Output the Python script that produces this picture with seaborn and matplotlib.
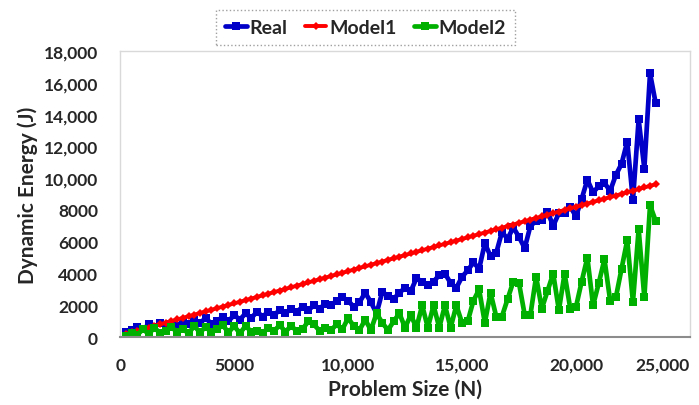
import numpy as np
import pandas as pd
import matplotlib
matplotlib.use("Agg")
import matplotlib.pyplot as plt
import seaborn as sns
from matplotlib.ticker import FuncFormatter

# problem sizes (N), one sample every 250
problem_size = list(range(250, 23501, 250))

real = [300, 450, 650, 500, 800, 650, 900, 650, 850, 700,
        1000, 800, 1100, 900, 1200, 850, 1000, 1300, 1000, 1400,
        1100, 1500, 1200, 1600, 1300, 1600, 1400, 1700, 1500, 1800,
        1600, 1900, 1700, 2000, 1800, 2100, 2000, 2300, 2500, 2300,
        1900, 2200, 2800, 2200, 1500, 2850, 2600, 2400, 2800, 3100,
        2900, 3700, 3500, 3300, 3500, 3900, 4000, 3400, 3100, 3800,
        4200, 4700, 4300, 5900, 5100, 5300, 6600, 6200, 6900, 6300,
        5600, 7000, 7300, 7400, 7900, 7000, 7800, 7800, 8200, 7600,
        8700, 9900, 9100, 9500, 9700, 9200, 10200, 10900, 12300, 8600,
        13700, 10600, 16600, 14700]

model1 = [201, 303, 404, 505, 606, 708, 809, 910, 1011, 1113,
          1214, 1315, 1416, 1518, 1619, 1720, 1821, 1923, 2024, 2125,
          2226, 2328, 2429, 2530, 2631, 2733, 2834, 2935, 3036, 3138,
          3239, 3340, 3441, 3543, 3644, 3745, 3846, 3948, 4049, 4150,
          4251, 4353, 4454, 4555, 4656, 4758, 4859, 4960, 5061, 5163,
          5264, 5365, 5466, 5568, 5669, 5770, 5871, 5973, 6074, 6175,
          6276, 6378, 6479, 6580, 6681, 6783, 6884, 6985, 7086, 7188,
          7289, 7390, 7491, 7593, 7694, 7795, 7896, 7998, 8099, 8200,
          8301, 8403, 8504, 8605, 8706, 8808, 8909, 9010, 9111, 9213,
          9314, 9415, 9516, 9618]

model2 = [100, 250, 150, 500, 200, 600, 250, 400, 650, 300,
          500, 250, 700, 300, 650, 300, 500, 750, 300, 700,
          250, 700, 350, 400, 250, 600, 400, 750, 350, 700,
          400, 500, 1000, 800, 400, 600, 450, 800, 500, 1200,
          700, 450, 1100, 450, 1500, 900, 450, 1000, 1500, 600,
          1400, 600, 2000, 600, 2000, 600, 2000, 600, 2000, 900,
          1000, 2300, 3000, 900, 2800, 1300, 1300, 2400, 3500, 3400,
          1400, 1400, 3800, 1800, 2900, 4000, 1700, 4000, 1800, 1900,
          3500, 5000, 2000, 3400, 4900, 2300, 2500, 4300, 6100, 2200,
          6800, 2500, 8300, 7300]

df = pd.DataFrame({"N": problem_size, "Real": real, "Model1": model1, "Model2": model2})

sns.set_style("white")
plt.rcParams["font.family"] = ["Lato", "DejaVu Sans"]
plt.rcParams["font.weight"] = "bold"

fig = plt.figure(figsize=(6.99, 4.06), dpi=100)
ax = fig.add_axes([0.172, 0.167, 0.815, 0.705])

sns.lineplot(data=df, x="N", y="Real", ax=ax, color="#0000C8", linewidth=3.4,
             marker="s", markersize=6, markeredgewidth=0, label="Real")
sns.lineplot(data=df, x="N", y="Model1", ax=ax, color="#FF0000", linewidth=2.8,
             marker="D", markersize=3.8, markeredgewidth=0, label="Model1")
sns.lineplot(data=df, x="N", y="Model2", ax=ax, color="#00B000", linewidth=3.4,
             marker="s", markersize=6, markeredgewidth=0, label="Model2")

ax.set_xlim(0, 25000)
ax.set_ylim(0, 18000)
ax.set_xticks([0, 5000, 10000, 15000, 20000, 25000])
ax.set_yticks(range(0, 18001, 2000))
fmt = FuncFormatter(lambda v, p: f"{v:,.0f}" if v >= 10000 else f"{v:.0f}")
ax.xaxis.set_major_formatter(fmt)
ax.yaxis.set_major_formatter(fmt)
ax.tick_params(length=0, labelsize=12.5)
ax.tick_params(axis="x", pad=14)
ax.tick_params(axis="y", pad=16)
fig.canvas.draw()
for lab in ax.get_xticklabels() + ax.get_yticklabels():
    lab.set_fontweight("bold")
# keep the last x label inside the figure
ax.get_xticklabels()[-1].set_horizontalalignment("right")

ax.set_xlabel("Problem Size (N)", fontsize=15, fontweight="bold", labelpad=4)
ax.set_ylabel("Dynamic Energy (J)", fontsize=15, fontweight="bold", labelpad=4)

for side in ["top", "right", "left"]:
    ax.spines[side].set_color("#D9D9D9")
    ax.spines[side].set_linewidth(1)
ax.spines["bottom"].set_color("#8C8C8C")
ax.spines["bottom"].set_linewidth(1.5)

leg = ax.legend(loc="center", bbox_to_anchor=(0.523, 0.93), bbox_transform=fig.transFigure,
                ncol=3, frameon=True, fancybox=False, fontsize=14, handlelength=1.1,
                handletextpad=0.15, columnspacing=0.9, borderpad=0.45)
leg.get_frame().set_linestyle(":")
leg.get_frame().set_edgecolor("#888888")
leg.get_frame().set_linewidth(1)
for t in leg.get_texts():
    t.set_fontweight("bold")

fig.savefig("out.png", dpi=100)
